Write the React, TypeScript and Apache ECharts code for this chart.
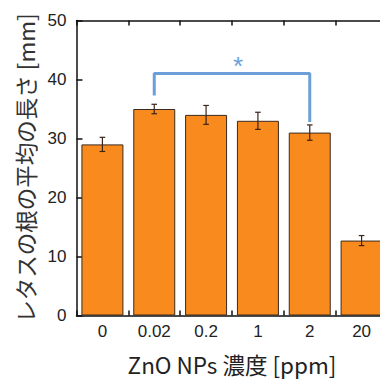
import React, { useEffect, useRef } from "react";
import * as echarts from "echarts";

const categories = ["0", "0.02", "0.2", "1", "2", "20"];
const means = [29, 35, 34, 33, 31, 12.7];
const errors = [1.2, 0.8, 1.6, 1.45, 1.3, 0.85];
const yTicks = [0, 10, 20, 30, 40, 50];
const bracketPoints: [string, number][] = [
  ["0.02", 37.3],
  ["0.02", 41],
  ["2", 41],
  ["2", 32.8],
];
const yName = "レタスの根の平均の長さ [mm]";
const xName = "ZnO NPs 濃度 [ppm]";

export default function App() {
  const ref = useRef<HTMLDivElement>(null);
  useEffect(() => {
    if (!ref.current) return;
    const chart = echarts.init(ref.current, null, { renderer: "svg" });
    const latin = "Liberation Sans";
    const cjk = "'Noto Sans CJK JP'";
    chart.setOption({
      animation: false,
      backgroundColor: "#ffffff",
      grid: { left: 76.5, right: 12.5, top: 20.5, bottom: 62, containLabel: false },
      xAxis: [
        {
          type: "category",
          data: categories,
          position: "bottom",
          name: xName,
          nameLocation: "middle",
          nameGap: 37,
          nameTextStyle: { fontFamily: cjk, fontSize: 22.5, color: "#222" },
          axisLine: { show: true, lineStyle: { color: "#111", width: 1.5 } },
          axisTick: { show: true, inside: true, length: 5, lineStyle: { color: "#111", width: 1.5 } },
          axisLabel: { fontFamily: latin, fontSize: 17, color: "#222", margin: 7 },
        },
        {
          type: "category",
          data: categories,
          position: "top",
          axisLine: { show: true, lineStyle: { color: "#111", width: 1.5 } },
          axisTick: { show: true, inside: true, length: 5, lineStyle: { color: "#111", width: 1.5 } },
          axisLabel: { show: false },
        },
      ],
      yAxis: [
        {
          type: "value",
          min: 0,
          max: 50,
          interval: 10,
          name: yName,
          nameLocation: "middle",
          nameGap: 39,
          nameRotate: 90,
          nameTextStyle: { fontFamily: cjk, fontSize: 22.5, color: "#333" },
          axisLine: { show: true, lineStyle: { color: "#111", width: 1.5 } },
          axisTick: { show: true, inside: true, length: 6, lineStyle: { color: "#111", width: 1.5 } },
          axisLabel: {
            fontFamily: latin,
            fontSize: 17,
            color: "#222",
            margin: 10,
            customValues: yTicks,
          },
          splitLine: { show: false },
        },
      ],
      series: [
        {
          type: "bar",
          data: means,
          barCategoryGap: "19%",
          itemStyle: { color: "#F98A1E", borderColor: "#3b2a1e", borderWidth: 1 },
          z: 2,
        },
        {
          type: "custom",
          data: means.map((m, i) => [i, m - errors[i], m + errors[i]]),
          z: 3,
          renderItem: (params: any, api: any) => {
            const x = api.coord([api.value(0), 0])[0];
            const lo = api.coord([api.value(0), api.value(1)])[1];
            const hi = api.coord([api.value(0), api.value(2)])[1];
            const cap = 2.8;
            const style = { stroke: "#3a2418", lineWidth: 1.2 };
            return {
              type: "group",
              children: [
                { type: "line", shape: { x1: x, y1: lo, x2: x, y2: hi }, style },
                { type: "line", shape: { x1: x - cap, y1: lo, x2: x + cap, y2: lo }, style },
                { type: "line", shape: { x1: x - cap, y1: hi, x2: x + cap, y2: hi }, style },
              ],
            };
          },
        },
        {
          type: "line",
          data: bracketPoints,
          symbol: "none",
          lineStyle: { color: "#6C9FD9", width: 3 },
          z: 4,
        },
      ],
      graphic: [
        {
          type: "text",
          left: 233,
          top: 53,
          style: { text: "*", fontFamily: latin, fontSize: 26, fill: "#6C9FD9" },
        },
      ],
    });
    return () => chart.dispose();
  }, []);
  return (
    <div style={{ position: "fixed", left: 0, top: 0, width: 380, height: 380, overflow: "hidden", background: "#fff" }}>
      <div ref={ref} style={{ width: 400, height: 380 }} />
    </div>
  );
}
